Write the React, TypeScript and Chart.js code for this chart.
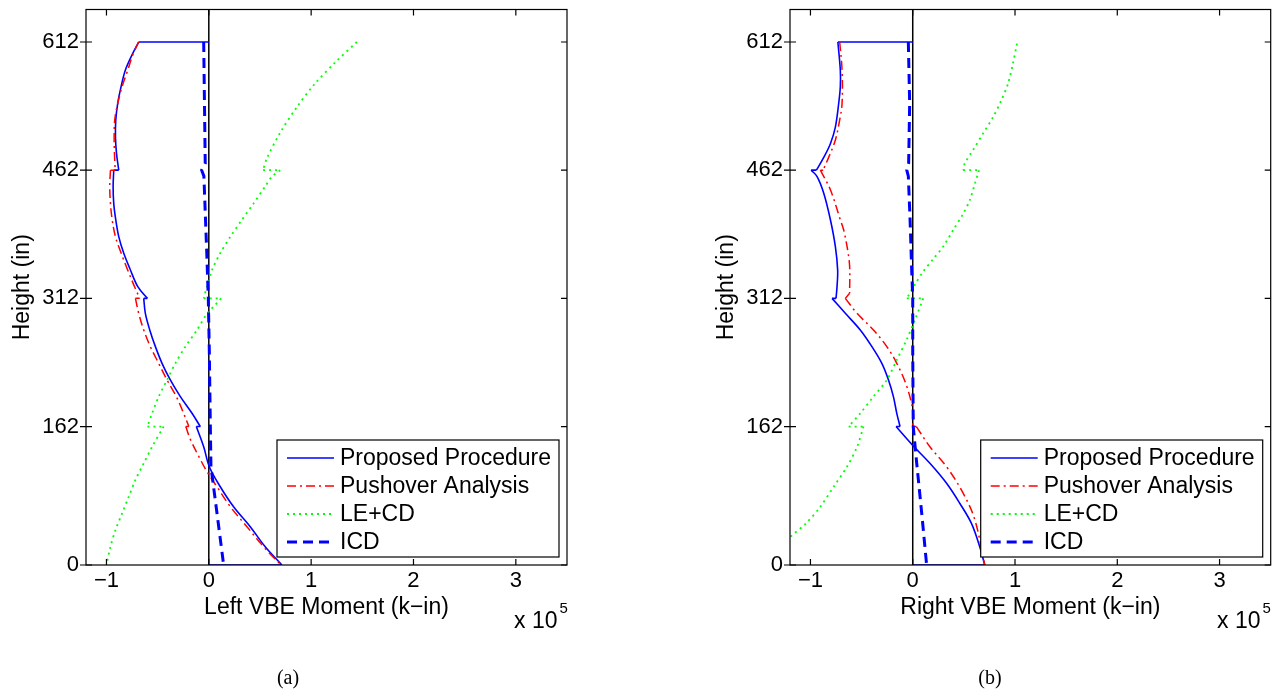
import React, { useEffect, useRef } from 'react';
import { Chart, registerables } from 'chart.js';

Chart.register(...registerables);

// ---------- data (moment in units of 1e5 k-in, height in inches) ----------
// each series is a list of story segments; consecutive segments are joined by straight steps
type Pt = [number, number];
const xTicks = [-1, 0, 1, 2, 3];
const yTicks = [0, 162, 312, 462, 612];
const seriesLabels = ['Proposed Procedure', 'Pushover Analysis', 'LE+CD', 'ICD'];
const zeroLine: Pt[] = [[0, 0], [0, 650]];

const leftProposed: Pt[][] = [
  [[0, 612], [-0.685, 612]],
  [[-0.685, 612], [-0.743, 598.7], [-0.815, 579.2], [-0.857, 559.7], [-0.89, 540.2], [-0.909, 520.7], [-0.912, 501.2], [-0.902, 481.7], [-0.88, 462]],
  [[-0.929, 462], [-0.935, 442.7], [-0.929, 423.2], [-0.909, 403.7], [-0.88, 384.2], [-0.831, 364.7], [-0.766, 345.2], [-0.694, 325.7], [-0.6, 312]],
  [[-0.636, 312], [-0.62, 294.5], [-0.577, 275], [-0.522, 255.5], [-0.457, 236], [-0.376, 216.5], [-0.278, 197], [-0.164, 177.5], [-0.083, 162]],
  [[-0.122, 162], [-0.05, 138.4], [0.005, 115], [0.112, 91.6], [0.242, 68.2], [0.405, 44.8], [0.551, 21.4], [0.714, 0]],
  [[0.714, 0], [0, 0]],
];
const leftPushover: Pt[][] = [
  [[-0.685, 612], [-0.743, 597], [-0.792, 579], [-0.847, 560], [-0.89, 540], [-0.919, 521], [-0.925, 501], [-0.922, 482], [-0.915, 462]],
  [[-0.961, 462], [-0.968, 443], [-0.961, 423], [-0.944, 404], [-0.912, 384], [-0.857, 365], [-0.792, 345], [-0.727, 326], [-0.675, 312]],
  [[-0.717, 312], [-0.685, 294.5], [-0.636, 275], [-0.571, 255.5], [-0.49, 236], [-0.408, 216.5], [-0.317, 197], [-0.246, 177.5], [-0.195, 162]],
  [[-0.225, 162], [-0.18, 147], [-0.083, 123.6], [-0.012, 108], [0.08, 91.6], [0.21, 68.2], [0.373, 44.8], [0.535, 21.4], [0.704, 0]],
];
const leftLECD: Pt[][] = [
  [[1.446, 612], [1.234, 588], [1.032, 562.6], [0.86, 535.7], [0.698, 506], [0.568, 476], [0.53, 462]],
  [[0.698, 462], [0.616, 454.5], [0.551, 443], [0.437, 423], [0.324, 404], [0.21, 384], [0.112, 365], [0.031, 345], [-0.018, 326], [-0.05, 312]],
  [[0.12, 312], [0.06, 304], [-0.018, 294], [-0.115, 275], [-0.229, 255.5], [-0.327, 236], [-0.408, 216.5], [-0.49, 197], [-0.554, 177.5], [-0.6, 162]],
  [[-0.441, 162], [-0.554, 138.4], [-0.636, 119], [-0.717, 99.5], [-0.782, 80], [-0.847, 60.5], [-0.912, 41], [-0.961, 21.4], [-1.0, 0]],
];
const leftICD: Pt[][] = [
  [[-0.05, 612], [-0.035, 470], [-0.07, 462], [-0.048, 455], [-0.02, 365], [-0.005, 312], [0.005, 250], [0.015, 162], [0.021, 115], [0.08, 60.5], [0.145, 0]],
];

const rightProposed: Pt[][] = [
  [[0, 612], [-0.732, 612]],
  [[-0.732, 612], [-0.708, 579], [-0.708, 560], [-0.724, 540], [-0.757, 512], [-0.805, 493], [-0.87, 477], [-0.942, 462]],
  [[-0.993, 462], [-0.935, 454.5], [-0.87, 435], [-0.805, 404], [-0.757, 373], [-0.734, 345], [-0.74, 326], [-0.75, 312]],
  [[-0.789, 312], [-0.659, 294.5], [-0.513, 275], [-0.399, 255.5], [-0.302, 236], [-0.237, 216.5], [-0.189, 197], [-0.156, 177.5], [-0.124, 162]],
  [[-0.163, 162], [0, 140], [0.168, 119], [0.331, 95.6], [0.461, 72], [0.574, 48.7], [0.655, 21.4], [0.704, 0]],
  [[0.704, 0], [0, 0]],
];
const rightPushover: Pt[][] = [
  [[-0.714, 612], [-0.691, 579], [-0.691, 540], [-0.714, 521], [-0.757, 497], [-0.822, 477], [-0.876, 462]],
  [[-0.903, 462], [-0.805, 439], [-0.708, 404], [-0.675, 392], [-0.637, 369], [-0.617, 349.6], [-0.617, 318]],
  [[-0.659, 312], [-0.545, 294.5], [-0.384, 275], [-0.253, 255.5], [-0.156, 236], [-0.058, 209], [0.006, 177.5], [0.0, 162]],
  [[0.035, 162], [0.168, 138.4], [0.331, 115], [0.493, 84], [0.607, 53], [0.704, 0]],
];
const rightLECD: Pt[][] = [
  [[1.019, 610], [0.98, 587], [0.931, 563], [0.867, 544], [0.785, 524], [0.688, 505], [0.59, 485.6], [0.509, 470], [0.493, 462]],
  [[0.649, 462], [0.607, 446], [0.558, 427], [0.493, 411], [0.396, 392], [0.3, 373], [0.2, 358], [0.1, 343], [0.02, 328], [-0.058, 312]],
  [[0.103, 312], [0.022, 287], [-0.058, 264], [-0.156, 240], [-0.253, 216.5], [-0.384, 197], [-0.513, 177.5], [-0.627, 162]],
  [[-0.481, 162], [-0.545, 138], [-0.643, 115], [-0.773, 91.6], [-0.903, 68.2], [-1.049, 48], [-1.195, 33], [-1.45, 0]],
];
const rightICD: Pt[][] = [
  [[-0.043, 612], [-0.03, 540], [-0.04, 470], [-0.058, 462], [-0.043, 455], [-0.026, 404], [-0.01, 345], [0, 312], [0, 250], [0.005, 162], [0.039, 119], [0.088, 60.5], [0.136, 0]],
];

// ---------- styling ----------
const SANS = "'Liberation Sans', Arial, Helvetica, sans-serif";
const SERIF = "'Liberation Serif', 'Times New Roman', serif";
const seriesStyles = [
  { color: '#0000ff', width: 1.6, dash: [] as number[], tension: 0.35 },
  { color: '#ff0000', width: 1.5, dash: [9, 4, 2, 4], tension: 0.35 },
  { color: '#00ff00', width: 1.8, dash: [2, 4], tension: 0.3 },
  { color: '#0000ff', width: 3, dash: [10, 6], tension: 0 },
];

const X_MIN = -1.2, X_MAX = 3.5, Y_MIN = 0, Y_MAX = 650;

const boxPlugin = {
  id: 'matlabBox',
  afterDraw(chart: any) {
    const { ctx, chartArea: ca, scales } = chart;
    const xs = scales.x, ys = scales.y;
    const T = 6;
    ctx.save();
    ctx.setLineDash([]);
    ctx.strokeStyle = '#000';
    ctx.lineWidth = 1.2;
    ctx.beginPath();
    xTicks.forEach((v) => {
      const px = xs.getPixelForValue(v);
      ctx.moveTo(px, ca.bottom); ctx.lineTo(px, ca.bottom - T);
      ctx.moveTo(px, ca.top); ctx.lineTo(px, ca.top + T);
    });
    yTicks.forEach((v) => {
      const py = ys.getPixelForValue(v);
      ctx.moveTo(ca.left - T, py); ctx.lineTo(ca.left + T, py);
      ctx.moveTo(ca.right, py); ctx.lineTo(ca.right - T, py);
    });
    ctx.stroke();
    ctx.strokeRect(ca.left, ca.top, ca.right - ca.left, ca.bottom - ca.top);

    // legend (inside, bottom-right)
    const items = chart.data.datasets
      .filter((d: any) => d.isLegend)
      .sort((a: any, b: any) => a.seriesIndex - b.seriesIndex);
    const bw = 282, bh = 117;
    const bx = ca.right - 8 - bw, by = ca.bottom - 8 - bh;
    ctx.fillStyle = '#fff';
    ctx.fillRect(bx, by, bw, bh);
    ctx.lineWidth = 1.2;
    ctx.strokeStyle = '#000';
    ctx.strokeRect(bx, by, bw, bh);
    ctx.font = `23px ${SANS}`;
    ctx.textBaseline = 'middle';
    ctx.textAlign = 'left';
    items.forEach((d: any, i: number) => {
      const cy = by + 18 + i * 28;
      ctx.strokeStyle = d.borderColor;
      ctx.lineWidth = d.borderWidth;
      ctx.setLineDash(d.borderDash || []);
      ctx.beginPath();
      ctx.moveTo(bx + 10, cy); ctx.lineTo(bx + 57, cy);
      ctx.stroke();
      ctx.setLineDash([]);
      ctx.fillStyle = '#000';
      ctx.fillText(d.label, bx + 63, cy + 1);
    });
    ctx.restore();
  },
};

type Geom = { padLeft: number; padRight: number; padTop: number; padBottom: number; yWidth: number; xHeight: number };

function buildDatasets(series: Pt[][][]): any[] {
  const out: any[] = [];
  series.forEach((segments, i) => {
    const st = seriesStyles[i];
    const base = {
      label: seriesLabels[i],
      seriesIndex: i,
      borderColor: st.color,
      backgroundColor: st.color,
      borderWidth: st.width,
      borderDash: st.dash,
      showLine: true,
      pointRadius: 0,
      fill: false,
      order: 10 - i,
    };
    segments.forEach((seg, k) => {
      out.push({ ...base, isLegend: k === 0, tension: st.tension, data: seg.map(([x, y]) => ({ x, y })) });
      if (k < segments.length - 1) {
        const a = seg[seg.length - 1];
        const b = segments[k + 1][0];
        out.push({ ...base, isLegend: false, tension: 0, data: [{ x: a[0], y: a[1] }, { x: b[0], y: b[1] }] });
      }
    });
  });
  out.push({
    label: 'zero',
    isLegend: false,
    data: zeroLine.map(([x, y]) => ({ x, y })),
    borderColor: '#000',
    borderWidth: 1.5,
    showLine: true,
    pointRadius: 0,
    order: 20,
  });
  return out;
}

function buildConfig(series: Pt[][][], xTitle: string, g: Geom): any {
  return {
    type: 'scatter',
    data: { datasets: buildDatasets(series) },
    plugins: [boxPlugin],
    options: {
      responsive: false,
      animation: false,
      devicePixelRatio: 1,
      layout: { padding: { left: g.padLeft, right: g.padRight, top: g.padTop, bottom: g.padBottom } },
      plugins: { legend: { display: false }, tooltip: { enabled: false } },
      scales: {
        x: {
          type: 'linear',
          min: X_MIN,
          max: X_MAX,
          afterBuildTicks: (s: any) => { s.ticks = xTicks.map((v) => ({ value: v })); },
          afterFit: (s: any) => { s.height = g.xHeight; s.paddingLeft = 0; s.paddingRight = 0; },
          grid: { display: false, drawTicks: false },
          border: { display: false },
          ticks: {
            color: '#000',
            padding: 3,
            maxRotation: 0,
            autoSkip: false,
            font: { family: SANS, size: 22 },
            callback: (v: number) => (v < 0 ? '\u2212' + Math.abs(v) : String(v)),
          },
          title: { display: true, text: xTitle, color: '#000', padding: 0, font: { family: SANS, size: 23 } },
        },
        y: {
          type: 'linear',
          min: Y_MIN,
          max: Y_MAX,
          afterBuildTicks: (s: any) => { s.ticks = yTicks.map((v) => ({ value: v })); },
          afterFit: (s: any) => { s.width = g.yWidth; s.paddingTop = 0; s.paddingBottom = 0; },
          grid: { display: false, drawTicks: false },
          border: { display: false },
          ticks: { color: '#000', padding: 7, autoSkip: false, font: { family: SANS, size: 22 }, callback: (v: number) => String(v) },
          title: { display: true, text: 'Height (in)', color: '#000', padding: 0, font: { family: SANS, size: 23 } },
        },
      },
    },
  };
}

function Plot(props: { series: Pt[][][]; xTitle: string; left: number; width: number; geom: Geom }) {
  const ref = useRef<HTMLCanvasElement>(null);
  useEffect(() => {
    const chart = new Chart(ref.current as HTMLCanvasElement, buildConfig(props.series, props.xTitle, props.geom));
    return () => chart.destroy();
  }, []);
  return (
    <canvas
      ref={ref}
      width={props.width}
      height={695}
      style={{ position: 'absolute', left: props.left, top: 0, width: props.width, height: 695 }}
    />
  );
}

function Exponent(props: { left: number }) {
  return (
    <div style={{ position: 'absolute', left: props.left, top: 609, font: `23px ${SANS}`, lineHeight: '23px', color: '#000', whiteSpace: 'nowrap' }}>
      x 10<span style={{ fontSize: 15, position: 'relative', top: -15, marginLeft: 2 }}>5</span>
    </div>
  );
}

function Caption(props: { cx: number; text: string }) {
  return (
    <div style={{ position: 'absolute', left: props.cx - 30, width: 60, top: 665, textAlign: 'center', font: `20px ${SERIF}`, lineHeight: '24px', color: '#000' }}>
      {props.text}
    </div>
  );
}

export default function App() {
  const leftGeom: Geom = { padLeft: 9.2, padRight: 73, padTop: 9.5, padBottom: 73.2, yWidth: 76.8, xHeight: 56.8 };
  const rightGeom: Geom = { padLeft: 73.2, padRight: 12.3, padTop: 9.5, padBottom: 73.2, yWidth: 76.8, xHeight: 56.8 };
  return (
    <div style={{ position: 'absolute', left: 0, top: 0, width: 1283, height: 695, background: '#fff', overflow: 'hidden' }}>
      <Plot series={[leftProposed, leftPushover, leftLECD, leftICD]} xTitle={'Left VBE Moment (k\u2212in)'} left={0} width={640} geom={leftGeom} />
      <Plot series={[rightProposed, rightPushover, rightLECD, rightICD]} xTitle={'Right VBE Moment (k\u2212in)'} left={640} width={643} geom={rightGeom} />
      <Exponent left={514} />
      <Exponent left={1217} />
      <Caption cx={288} text="(a)" />
      <Caption cx={990} text="(b)" />
    </div>
  );
}
